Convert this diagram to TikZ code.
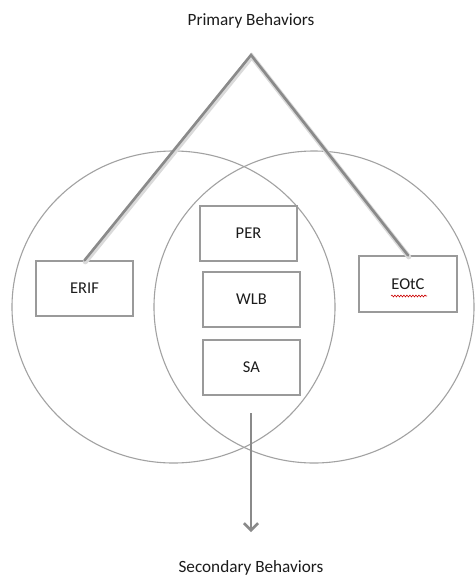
\documentclass[tikz,border=0pt]{standalone}
\usepackage{fontspec}
\setmainfont{Carlito}
\usetikzlibrary{arrows.meta,decorations.pathmorphing}
\definecolor{ringgray}{HTML}{A2A2A2}
\definecolor{boxgray}{HTML}{9A9A9A}
\definecolor{linkgray}{HTML}{8A8A8A}
\definecolor{shadegray}{HTML}{DADADA}
\definecolor{inkdark}{HTML}{1C1C1C}
\tikzset{
  ring/.style={draw=ringgray, line width=1.1pt},
  itembox/.style={draw=boxgray, line width=1.3pt, fill=white, minimum width=97pt,
    minimum height=55pt, inner sep=0pt, text=inkdark,
    font=\fontsize{16.5}{19}\selectfont},
  caption/.style={text=inkdark, inner sep=0pt, font=\fontsize{17.2}{20}\selectfont},
  linkshade/.style={draw=shadegray, line width=5pt, line cap=round},
  link/.style={draw=linkgray, line width=2.6pt, line cap=round, line join=miter},
  flow/.style={draw=linkgray, line width=2.6pt,
    -{Straight Barb[length=7pt,width=14pt,line width=2.6pt]}},
  squiggle/.style={draw=red!80!black, line width=0.6pt,
    decorate, decoration={snake, amplitude=0.9pt, segment length=3pt}}
}
\begin{document}
\begin{tikzpicture}[x=1pt,y=-1pt]
  \useasboundingbox (0,0) rectangle (475,579);
  \fill[white] (0,0) rectangle (475,579);

  % the two overlapping circles
  \draw[ring] (173.5,307) ellipse [x radius=161.5, y radius=156];
  \draw[ring] (314,307) ellipse [x radius=160, y radius=156];

  % headings
  \node[caption] (prim) at (251,21) {Primary Behaviors};
  \node[caption] (sec) at (251,568) {Secondary Behaviors};

  % boxes
  \node[itembox] (erif) at (84.5,288.5) {ERIF};
  \node[itembox] (per)  at (248.5,233.5) {PER};
  \node[itembox] (wlb)  at (251.5,299.5) {WLB};
  \node[itembox] (sa)   at (251.5,367.5) {SA};
  \node[itembox, minimum width=98pt, minimum height=56pt] (eotc) at (408,284) {EOtC};

  % spelling mark under EOtC
  \coordinate (sqa) at (391,296);
  \coordinate (sqb) at (427,296);
  \draw[squiggle] (sqa) -- (sqb);

  % links from the apex down to the outer boxes
  \coordinate (apex) at (251,55);
  \coordinate (apexs) at (251.8,56.5);
  \draw[linkshade] ([xshift=0.8pt,yshift=-1.5pt]erif.north) -- (apexs) -- ([xshift=0.8pt,yshift=-1.5pt]eotc.north);
  \draw[link] (erif.north) -- (apex) -- (eotc.north);

  % downward arrow to the secondary behaviours
  \coordinate (flowtop) at (251,413);
  \coordinate (flowend) at (251,532);
  \draw[flow] (flowtop) -- (flowend);
\end{tikzpicture}
\end{document}
